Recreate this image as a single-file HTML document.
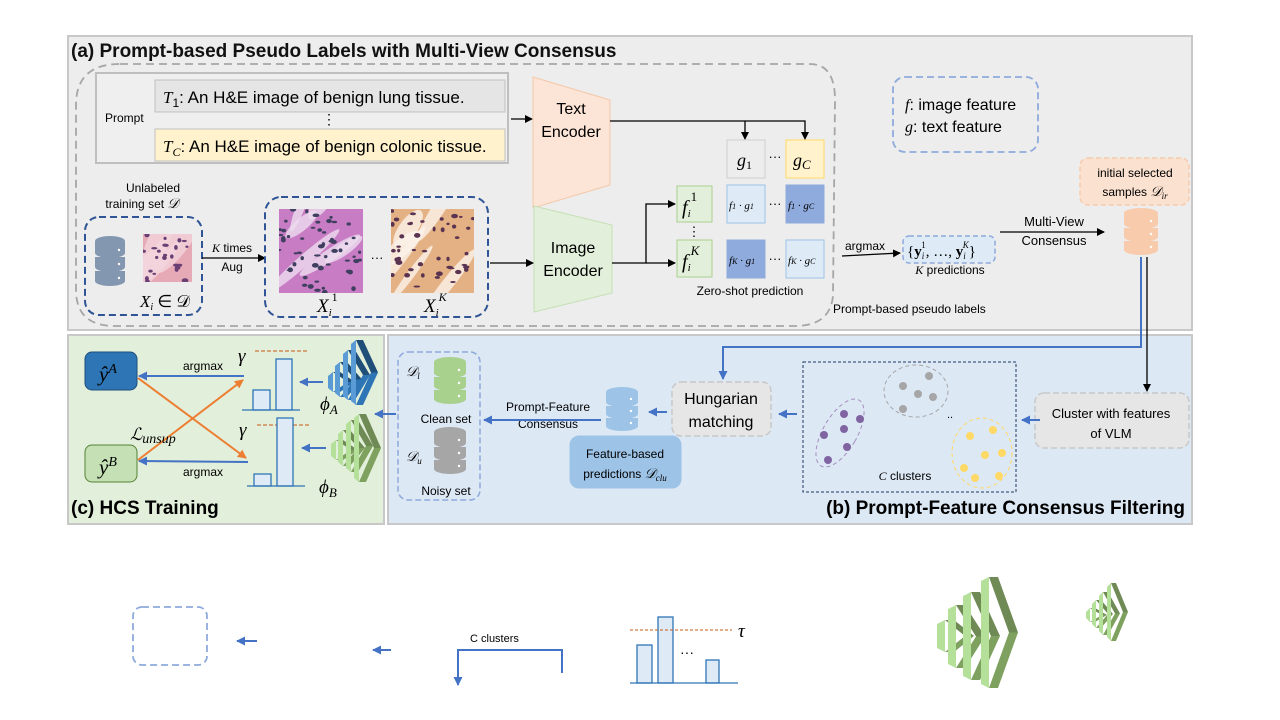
<!DOCTYPE html>
<html><head><meta charset="utf-8"><style>
html,body{margin:0;padding:0;background:#fff;}
svg{display:block;font-family:"Liberation Sans",sans-serif;}
.m{font-family:"Liberation Serif",serif;font-style:italic;}
</style></head><body>
<svg id="s" width="1280" height="720" viewBox="0 0 1280 720" xmlns="http://www.w3.org/2000/svg">
<defs>
<marker id="ak" markerWidth="8" markerHeight="8" refX="7" refY="4" orient="auto" markerUnits="userSpaceOnUse"><path d="M0,0 L8,4 L0,8z" fill="#000"/></marker>
<marker id="ab" markerWidth="9" markerHeight="9" refX="8" refY="4.5" orient="auto" markerUnits="userSpaceOnUse"><path d="M0,0 L9,4.5 L0,9z" fill="#4472c4"/></marker>
<marker id="ao" markerWidth="9" markerHeight="9" refX="8" refY="4.5" orient="auto" markerUnits="userSpaceOnUse"><path d="M0,0 L9,4.5 L0,9z" fill="#ed7d31"/></marker>
<clipPath id="c1"><rect x="143" y="234" width="49" height="48"/></clipPath>
<clipPath id="c2"><rect x="279" y="209" width="84" height="84"/></clipPath>
<clipPath id="c3"><rect x="391" y="209" width="83" height="84"/></clipPath>
</defs>

<rect x="68" y="36" width="1124" height="294" fill="#ededed" stroke="#c8c8c8" stroke-width="2"/>
<text x="71" y="57" font-size="19" font-weight="bold" fill="#111">(a) Prompt-based Pseudo Labels with Multi-View Consensus</text>
<path d="M120,64 L810,64 Q835,64 835,100 L833,296 Q830,326 795,326 L115,326 Q76,326 76,290 L76,105 Q76,64 120,64Z" fill="none" stroke="#a6a6a6" stroke-width="1.8" stroke-dasharray="8,5"/>

<rect x="96" y="73" width="412" height="90" fill="#efefef" stroke="#bfbfbf" stroke-width="2"/>
<text x="105" y="122" font-size="12">Prompt</text>
<rect x="155" y="80" width="350" height="32" fill="#e5e5e5" stroke="#c0c0c0"/>
<rect x="155" y="129" width="350" height="32" fill="#fff2cc" stroke="#c0c0c0"/>
<text x="163" y="103" font-size="17"><tspan class="m">T</tspan><tspan font-size="12" dy="4">1</tspan><tspan dy="-4">: An H&amp;E image of benign lung tissue.</tspan></text>
<text x="163" y="152" font-size="17"><tspan class="m">T</tspan><tspan font-size="12" dy="4" class="m">C</tspan><tspan dy="-4">: An H&amp;E image of benign colonic tissue.</tspan></text>
<text x="322" y="124" font-size="14">⋮</text>
<line x1="511" y1="119" x2="532" y2="119" stroke="#000" stroke-width="1.3" marker-end="url(#ak)"/>

<polygon points="533,77 610,100 610,185 533,208" fill="#fce4d6" stroke="#f4c8a8"/>
<text x="571" y="114" font-size="16" text-anchor="middle">Text</text>
<text x="571" y="137" font-size="16" text-anchor="middle">Encoder</text>
<polygon points="534,206 612,225 612,293 534,312" fill="#e2efda" stroke="#c5e0b4"/>
<text x="573" y="253" font-size="16" text-anchor="middle">Image</text>
<text x="573" y="276" font-size="16" text-anchor="middle">Encoder</text>

<polyline points="610,121 805,121 805,139" fill="none" stroke="#000" stroke-width="1.3" marker-end="url(#ak)"/>
<line x1="745" y1="121" x2="745" y2="139" stroke="#000" stroke-width="1.3" marker-end="url(#ak)"/>

<rect x="727" y="140" width="38" height="38" fill="#ededed" stroke="#cfcfcf"/>
<rect x="786" y="140" width="38" height="38" fill="#fff2cc" stroke="#ffd966"/>
<text x="737" y="166" font-size="18" class="m">g<tspan font-size="12" dy="3" font-style="normal">1</tspan></text>
<text x="793" y="166" font-size="18" class="m">g<tspan font-size="13" dy="3">C</tspan></text>
<text x="775" y="161" font-size="13" text-anchor="middle">···</text>

<rect x="727" y="185" width="38" height="38" fill="#deebf7" stroke="#9dc3e6"/>
<rect x="786" y="185" width="38" height="38" fill="#8faadc" stroke="#8faadc"/>
<rect x="727" y="240" width="38" height="38" fill="#8faadc" stroke="#8faadc"/>
<rect x="786" y="240" width="38" height="38" fill="#deebf7" stroke="#9dc3e6"/>
<g font-size="11" class="m">
<text x="729" y="209">f<tspan font-size="8">1</tspan> · g<tspan font-size="8">1</tspan></text>
<text x="788" y="209">f<tspan font-size="8">1</tspan> · g<tspan font-size="8">C</tspan></text>
<text x="729" y="264">f<tspan font-size="8">K</tspan> · g<tspan font-size="8">1</tspan></text>
<text x="788" y="264">f<tspan font-size="8">K</tspan> · g<tspan font-size="8">C</tspan></text>
</g>
<text x="775" y="208" font-size="13" text-anchor="middle">···</text>
<text x="775" y="263" font-size="13" text-anchor="middle">···</text>

<rect x="677" y="186" width="35" height="36" fill="#e2efda" stroke="#a9d18e"/>
<rect x="677" y="240" width="35" height="37" fill="#e2efda" stroke="#a9d18e"/>
<text x="682" y="214" font-size="20" class="m">f<tspan font-size="11" dy="3">i</tspan><tspan font-size="13" dy="-16" font-style="normal">1</tspan></text>
<text x="682" y="268" font-size="20" class="m">f<tspan font-size="11" dy="3">i</tspan><tspan font-size="13" dy="-16">K</tspan></text>
<text x="694" y="236" font-size="13" text-anchor="middle">⋮</text>
<polyline points="612,263 646,263 646,204 675,204" fill="none" stroke="#000" stroke-width="1.3" marker-end="url(#ak)"/>
<line x1="646" y1="263" x2="675" y2="263" stroke="#000" stroke-width="1.3" marker-end="url(#ak)"/>
<text x="750" y="295" font-size="12" text-anchor="middle">Zero-shot prediction</text>
<text x="833" y="313" font-size="12">Prompt-based  pseudo labels</text>

<text x="153" y="192" font-size="12" text-anchor="middle">Unlabeled</text>
<text x="142" y="208" font-size="12" text-anchor="middle">training set <tspan class="m" font-size="14">𝒟</tspan></text>
<rect x="85" y="217" width="117" height="98" rx="14" fill="none" stroke="#2f5597" stroke-width="2" stroke-dasharray="7,4"/>
<g fill="#8497b0">
<ellipse cx="110" cy="241" rx="15" ry="5"/>
<rect x="95" y="241" width="30" height="12"/><ellipse cx="110" cy="253" rx="15" ry="5"/>
<rect x="95" y="257" width="30" height="10"/><ellipse cx="110" cy="267" rx="15" ry="5"/>
<rect x="95" y="271" width="30" height="10"/><ellipse cx="110" cy="281" rx="15" ry="5"/>
</g>
<g fill="#fff"><circle cx="119" cy="250" r="1.2"/><circle cx="119" cy="264" r="1.2"/><circle cx="119" cy="278" r="1.2"/></g>
<g id="img1" clip-path="url(#c1)"><rect x="143" y="234" width="49" height="48" fill="#e6a9b6"/></g>
<text x="165" y="307" font-size="17" class="m" text-anchor="middle">X<tspan font-size="10" dy="3">i</tspan><tspan dy="-3" font-style="normal"> ∈ 𝒟</tspan></text>
<line x1="202" y1="258" x2="265" y2="258" stroke="#000" stroke-width="1.3" marker-end="url(#ak)"/>
<text x="232" y="252" font-size="12" text-anchor="middle"><tspan class="m">K</tspan> times</text>
<text x="232" y="271" font-size="12" text-anchor="middle">Aug</text>

<rect x="265" y="197" width="223" height="120" rx="16" fill="none" stroke="#2f5597" stroke-width="2" stroke-dasharray="7,4"/>
<g id="img2" clip-path="url(#c2)"><rect x="279" y="209" width="84" height="84" fill="#c77cc4"/></g>
<g id="img3" clip-path="url(#c3)"><rect x="391" y="209" width="83" height="84" fill="#e4b184"/></g>
<text x="377" y="262" font-size="13" text-anchor="middle">···</text>
<text x="317" y="312" font-size="19" class="m">X<tspan font-size="11" dy="4">i</tspan><tspan font-size="12" dy="-15" font-style="normal">1</tspan></text>
<text x="424" y="312" font-size="19" class="m">X<tspan font-size="11" dy="4">i</tspan><tspan font-size="12" dy="-15">K</tspan></text>
<line x1="490" y1="263" x2="533" y2="263" stroke="#000" stroke-width="1.3" marker-end="url(#ak)"/>

<rect x="893" y="77" width="145" height="75" rx="12" fill="none" stroke="#8faadc" stroke-width="1.8" stroke-dasharray="7,4"/>
<text x="905" y="110" font-size="16"><tspan class="m">f</tspan>: image feature</text>
<text x="905" y="132" font-size="16"><tspan class="m">g</tspan>: text feature</text>

<text x="845" y="250" font-size="12">argmax</text>
<line x1="842" y1="256" x2="900" y2="253" stroke="#000" stroke-width="1.3" marker-end="url(#ak)"/>
<rect x="903" y="236" width="92" height="27" rx="6" fill="#deebf7" stroke="#8faadc" stroke-width="1.5" stroke-dasharray="5,3"/>
<text x="907" y="256" font-size="15" font-family="Liberation Serif,serif">{<tspan font-weight="bold">y</tspan><tspan font-size="9" class="m" dy="3">i</tspan><tspan font-size="9" dx="-3" dy="-11">1</tspan><tspan dy="8">, …, </tspan><tspan font-weight="bold">y</tspan><tspan font-size="9" class="m" dy="3">i</tspan><tspan font-size="9" class="m" dx="-3" dy="-11">K</tspan><tspan dy="8">}</tspan></text>
<text x="950" y="274" font-size="12" text-anchor="middle"><tspan class="m">K</tspan> predictions</text>
<text x="1054" y="226" font-size="13" text-anchor="middle">Multi-View</text>
<text x="1054" y="245" font-size="13" text-anchor="middle">Consensus</text>
<line x1="1000" y1="232" x2="1104" y2="232" stroke="#000" stroke-width="1.3" marker-end="url(#ak)"/>
<rect x="1080" y="158" width="109" height="47" rx="8" fill="#fbe1d0" stroke="#f8cbad" stroke-width="1.5" stroke-dasharray="5,3"/>
<text x="1135" y="177" font-size="12" text-anchor="middle">initial selected</text>
<text x="1135" y="196" font-size="12" text-anchor="middle">samples <tspan class="m" font-size="14">𝒟</tspan><tspan font-size="9" class="m" dy="3">ir</tspan></text>
<g fill="#f8cbad">
<ellipse cx="1141" cy="213" rx="17" ry="5"/>
<rect x="1124" y="213" width="34" height="11"/><ellipse cx="1141" cy="224" rx="17" ry="5"/>
<rect x="1124" y="228" width="34" height="9"/><ellipse cx="1141" cy="237" rx="17" ry="5"/>
<rect x="1124" y="241" width="34" height="9"/><ellipse cx="1141" cy="250" rx="17" ry="5"/>
</g>
<g fill="#fff"><circle cx="1151" cy="221" r="1.2"/><circle cx="1151" cy="234" r="1.2"/><circle cx="1151" cy="247" r="1.2"/></g>

<rect x="68" y="335" width="316" height="189" fill="#e2efda" stroke="#c8c8c8" stroke-width="2"/>
<rect x="388" y="335" width="804" height="189" fill="#dde8f5" stroke="#c8c8c8" stroke-width="2"/>

<polyline points="1141,257 1141,347 723,347 723,379" fill="none" stroke="#4472c4" stroke-width="2" marker-end="url(#ab)"/>
<line x1="1147" y1="257" x2="1147" y2="391" stroke="#000" stroke-width="1.3" marker-end="url(#ak)"/>

<rect x="1035" y="393" width="154" height="55" rx="9" fill="#e7e6e6" stroke="#c8c8c8" stroke-width="1.5" stroke-dasharray="6,3"/>
<text x="1111" y="418" font-size="13" text-anchor="middle">Cluster with features</text>
<text x="1111" y="438" font-size="13" text-anchor="middle">of  VLM</text>
<line x1="1040" y1="420" x2="1022" y2="420" stroke="#4472c4" stroke-width="2" marker-end="url(#ab)"/>
<rect x="803" y="362" width="213" height="130" fill="none" stroke="#203864" stroke-dasharray="3,2"/>
<ellipse cx="840" cy="433" rx="17" ry="38" transform="rotate(30 840 433)" fill="none" stroke="#a58fbf" stroke-dasharray="4,3"/>
<ellipse cx="916" cy="391" rx="32" ry="26" fill="none" stroke="#a6a6a6" stroke-dasharray="4,3"/>
<ellipse cx="982" cy="453" rx="30" ry="35" fill="none" stroke="#ffd966" stroke-dasharray="4,3"/>
<g fill="#8064a2"><circle cx="844" cy="414" r="4"/><circle cx="860" cy="419" r="4"/><circle cx="824" cy="435" r="4"/><circle cx="844" cy="429" r="4"/><circle cx="847" cy="447" r="4"/><circle cx="828" cy="460" r="4"/></g>
<g fill="#a6a6a6"><circle cx="929" cy="376" r="4"/><circle cx="903" cy="386" r="4"/><circle cx="918" cy="394" r="4"/><circle cx="933" cy="397" r="4"/><circle cx="903" cy="409" r="4"/></g>
<g fill="#ffd966"><circle cx="970" cy="436" r="4"/><circle cx="993" cy="430" r="4"/><circle cx="985" cy="455" r="4"/><circle cx="1002" cy="453" r="4"/><circle cx="964" cy="468" r="4"/><circle cx="975" cy="478" r="4"/><circle cx="999" cy="476" r="4"/></g>
<text x="947" y="418" font-size="11">..</text>
<text x="905" y="480" font-size="12" text-anchor="middle"><tspan class="m">C</tspan> clusters</text>
<line x1="797" y1="414" x2="779" y2="414" stroke="#4472c4" stroke-width="2" marker-end="url(#ab)"/>
<rect x="672" y="382" width="99" height="54" rx="9" fill="#e7e6e6" stroke="#c8c8c8" stroke-width="1.5" stroke-dasharray="6,3"/>
<text x="721" y="404" font-size="16" text-anchor="middle">Hungarian</text>
<text x="721" y="427" font-size="16" text-anchor="middle">matching</text>
<line x1="667" y1="412" x2="649" y2="412" stroke="#4472c4" stroke-width="2" marker-end="url(#ab)"/>
<rect x="570" y="436" width="111" height="52" rx="9" fill="#9dc3e6" stroke="#9dc3e6"/>
<text x="625" y="458" font-size="12" text-anchor="middle">Feature-based</text>
<text x="625" y="478" font-size="12" text-anchor="middle">predictions <tspan class="m" font-size="14">𝒟</tspan><tspan font-size="9" class="m" dy="3">clu</tspan></text>
<g fill="#9dc3e6">
<ellipse cx="622" cy="392" rx="16" ry="5"/>
<rect x="606" y="392" width="32" height="10"/><ellipse cx="622" cy="402" rx="16" ry="5"/>
<rect x="606" y="406" width="32" height="8"/><ellipse cx="622" cy="414" rx="16" ry="5"/>
<rect x="606" y="418" width="32" height="8"/><ellipse cx="622" cy="426" rx="16" ry="5"/>
</g>
<g fill="#fff"><circle cx="631" cy="399" r="1.2"/><circle cx="631" cy="411" r="1.2"/><circle cx="631" cy="423" r="1.2"/></g>
<text x="548" y="411" font-size="12" text-anchor="middle">Prompt-Feature</text>
<text x="548" y="428" font-size="12" text-anchor="middle">Consensus</text>
<line x1="601" y1="420" x2="484" y2="420" stroke="#4472c4" stroke-width="2" marker-end="url(#ab)"/>
<rect x="398" y="352" width="82" height="148" rx="10" fill="none" stroke="#8faadc" stroke-width="1.5" stroke-dasharray="6,3"/>
<g fill="#a9d18e">
<ellipse cx="450" cy="362" rx="16" ry="5"/>
<rect x="434" y="362" width="32" height="11"/><ellipse cx="450" cy="373" rx="16" ry="5"/>
<rect x="434" y="377" width="32" height="9"/><ellipse cx="450" cy="386" rx="16" ry="5"/>
<rect x="434" y="390" width="32" height="9"/><ellipse cx="450" cy="399" rx="16" ry="5"/>
</g>
<g fill="#a6a6a6">
<ellipse cx="450" cy="432" rx="16" ry="5"/>
<rect x="434" y="432" width="32" height="11"/><ellipse cx="450" cy="443" rx="16" ry="5"/>
<rect x="434" y="447" width="32" height="9"/><ellipse cx="450" cy="456" rx="16" ry="5"/>
<rect x="434" y="460" width="32" height="9"/><ellipse cx="450" cy="469" rx="16" ry="5"/>
</g>
<g fill="#fff"><circle cx="459" cy="370" r="1.2"/><circle cx="459" cy="383" r="1.2"/><circle cx="459" cy="396" r="1.2"/><circle cx="459" cy="440" r="1.2"/><circle cx="459" cy="453" r="1.2"/><circle cx="459" cy="466" r="1.2"/></g>
<text x="406" y="376" font-size="14" class="m">𝒟<tspan font-size="9" dy="3">l</tspan></text>
<text x="446" y="423" font-size="12" text-anchor="middle">Clean set</text>
<text x="406" y="461" font-size="14" class="m">𝒟<tspan font-size="9" dy="3">u</tspan></text>
<text x="446" y="495" font-size="12" text-anchor="middle">Noisy set</text>
<line x1="396" y1="414" x2="375" y2="414" stroke="#4472c4" stroke-width="2" marker-end="url(#ab)"/>
<text x="1185" y="514" font-size="19" font-weight="bold" text-anchor="end">(b) Prompt-Feature Consensus Filtering</text>

<rect x="85" y="352" width="52" height="38" rx="7" fill="#2e75b6" stroke="#1f4e79"/>
<rect x="85" y="445" width="52" height="37" rx="7" fill="#c5e0b4" stroke="#548235"/>
<text x="99" y="381" font-size="21" class="m">ŷ<tspan font-size="14" dy="-8">A</tspan></text>
<text x="99" y="474" font-size="21" class="m">ŷ<tspan font-size="14" dy="-8">B</tspan></text>
<line x1="244" y1="376" x2="139" y2="376" stroke="#4472c4" stroke-width="2" marker-end="url(#ab)"/>
<line x1="248" y1="462" x2="139" y2="461" stroke="#4472c4" stroke-width="2" marker-end="url(#ab)"/>
<text x="183" y="370" font-size="12">argmax</text>
<text x="183" y="476" font-size="12">argmax</text>
<line x1="138" y1="378" x2="246" y2="458" stroke="#ed7d31" stroke-width="2" marker-end="url(#ao)"/>
<line x1="138" y1="460" x2="243" y2="380" stroke="#ed7d31" stroke-width="2" marker-end="url(#ao)"/>
<text x="130" y="440" font-size="17" class="m" font-family="Liberation Serif,serif">ℒ<tspan font-size="14" dy="3">unsup</tspan></text>
<text x="238" y="362" font-size="19" class="m">γ</text>
<line x1="255" y1="351" x2="308" y2="351" stroke="#c55a11" stroke-dasharray="4,2"/>
<rect x="253" y="390" width="17" height="20" fill="#deebf7" stroke="#2e75b6" stroke-width="1.3"/>
<rect x="276" y="359" width="16" height="51" fill="#deebf7" stroke="#2e75b6" stroke-width="1.3"/>
<line x1="242" y1="410" x2="300" y2="410" stroke="#2e75b6" stroke-width="1.3"/>
<text x="239" y="436" font-size="19" class="m">γ</text>
<line x1="257" y1="425" x2="310" y2="425" stroke="#c55a11" stroke-dasharray="4,2"/>
<rect x="254" y="474" width="17" height="12" fill="#deebf7" stroke="#2e75b6" stroke-width="1.3"/>
<rect x="277" y="418" width="16" height="68" fill="#deebf7" stroke="#2e75b6" stroke-width="1.3"/>
<line x1="247" y1="486" x2="305" y2="486" stroke="#2e75b6" stroke-width="1.3"/>
<line x1="323" y1="382" x2="300" y2="382" stroke="#4472c4" stroke-width="2" marker-end="url(#ab)"/>
<line x1="326" y1="448" x2="302" y2="448" stroke="#4472c4" stroke-width="2" marker-end="url(#ab)"/>
<text x="320" y="410" font-size="19" class="m">ϕ<tspan font-size="13" dy="4">A</tspan></text>
<text x="319" y="493" font-size="19" class="m">ϕ<tspan font-size="13" dy="4">B</tspan></text>
<text x="71" y="514" font-size="19" font-weight="bold">(c) HCS Training</text>

<rect x="133" y="607" width="74" height="58" rx="9" fill="none" stroke="#8faadc" stroke-width="1.8" stroke-dasharray="7,4"/>
<line x1="257" y1="641" x2="237" y2="641" stroke="#4472c4" stroke-width="2" marker-end="url(#ab)"/>
<line x1="391" y1="650" x2="373" y2="650" stroke="#4472c4" stroke-width="2" marker-end="url(#ab)"/>
<text x="470" y="642" font-size="11">C clusters</text>
<polyline points="562,673 562,650 458,650 458,685" fill="none" stroke="#4472c4" stroke-width="2" marker-end="url(#ab)"/>
<rect x="637" y="645" width="15" height="38" fill="#deebf7" stroke="#2e75b6" stroke-width="1.3"/>
<rect x="658" y="617" width="15" height="66" fill="#deebf7" stroke="#2e75b6" stroke-width="1.3"/>
<rect x="706" y="660" width="13" height="23" fill="#deebf7" stroke="#2e75b6" stroke-width="1.3"/>
<line x1="630" y1="683" x2="738" y2="683" stroke="#2e75b6" stroke-width="1.3"/>
<line x1="630" y1="630" x2="732" y2="630" stroke="#c55a11" stroke-dasharray="3,2"/>
<text x="738" y="637" font-size="19" class="m">τ</text>
<text x="680" y="657" font-size="14">···</text>
</svg>
<script>
var NS="http://www.w3.org/2000/svg";
function el(p,t,a){var e=document.createElementNS(NS,t);for(var k in a)e.setAttribute(k,a[k]);p.appendChild(e);return e;}
var svg=document.getElementById('s');
function stack(slabs,w,s,f,cd,cm,cl){
 var g=el(svg,'g',{});
 slabs.forEach(function(sl){var x=sl[0],yt=sl[1],yb=sl[2],ym=(yt+yb)/2;
  el(g,'polygon',{points:(x-f)+','+(yt+4)+' '+x+','+yt+' '+x+','+yb+' '+(x-f)+','+(yb-4),fill:cl});
  el(g,'polygon',{points:x+','+yt+' '+(x+w)+','+yt+' '+(x+w+s)+','+ym+' '+(x+s)+','+ym,fill:cd});
  el(g,'polygon',{points:(x+s)+','+ym+' '+(x+w+s)+','+ym+' '+(x+w)+','+yb+' '+x+','+yb,fill:cm});
 });}
stack([[333,372,392],[340,362,397],[348,350,400],[356,340,405]],7,15,5,'#1f4e79','#2e75b6','#5b9bd5');
stack([[336,440,460],[343,430,466],[351,420,472],[359,414,482]],7,15,5,'#6f8a55','#7fa15f','#b5e09a');
stack([[945,620,652],[956,605,668],[971,592,680],[989,577,688]],9,20,8,'#6f8a55','#7fa15f','#b5e09a');
stack([[1090,608,622],[1096,600,628],[1103,592,635],[1111,583,641]],5,12,4,'#6f8a55','#7fa15f','#b5e09a');
var seed=7;function r(){seed=(seed*9301+49297)%233280;return seed/233280;}
function tissue(id,x,y,w,h,streak,dot,n){var g=document.getElementById(id);
 for(var i=0;i<6;i++){el(g,'ellipse',{cx:x+r()*w,cy:y+r()*h,rx:3+r()*8,ry:20+r()*30,fill:streak,opacity:0.8,transform:'rotate('+(20+r()*40)+' '+(x+w/2)+' '+(y+h/2)+')'});}
 for(var i=0;i<n;i++){el(g,'ellipse',{cx:x+r()*w,cy:y+r()*h,rx:1.5+r()*2,ry:1+r()*1.5,fill:dot});}}
tissue('img1',143,234,49,48,'#f3d3dc','#6a3f74',25);
tissue('img2',279,209,84,84,'#ecdcef','#3f3f5f',55);
tissue('img3',391,209,83,84,'#fbf3ea','#5a3350',45);
</script>
</body></html>
